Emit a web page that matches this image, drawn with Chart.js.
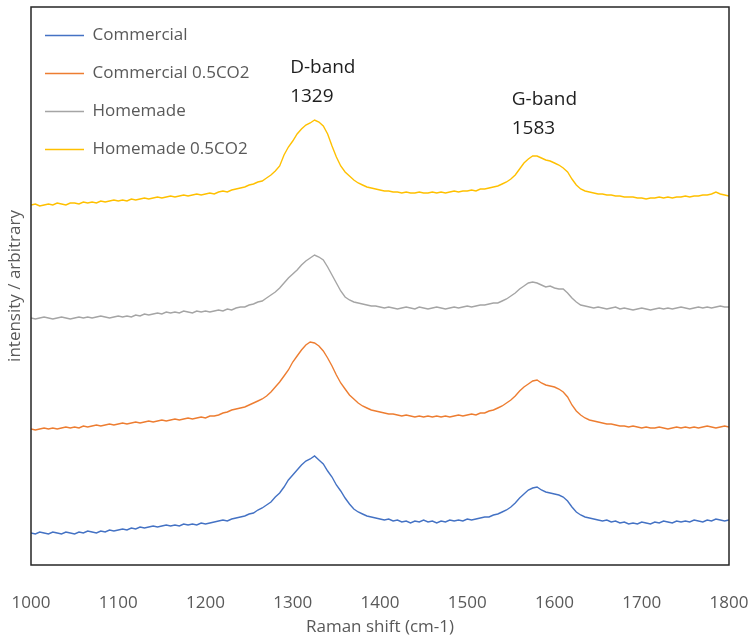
<!DOCTYPE html>
<html>
<head>
<meta charset="utf-8">
<script src="https://cdn.jsdelivr.net/npm/chart.js@4/dist/chart.umd.min.js"></script>
<style>
  html, body { margin: 0; padding: 0; background: #ffffff; }
  #wrap { width: 751px; height: 637px; }
</style>
</head>
<body>
<div id="wrap"><canvas id="raman" width="751" height="637"></canvas></div>
<script>
// Raman shift axis (cm-1)
const shifts = [
  1000,1005,1010,1015,1020,1025,1030,1035,1040,1045,1050,1055,1060,1065,1070,1075,1080,1085,1090,1095,
  1100,1105,1110,1115,1120,1125,1130,1135,1140,1145,1150,1155,1160,1165,1170,1175,1180,1185,1190,1195,
  1200,1205,1210,1215,1220,1225,1230,1235,1240,1245,1250,1255,1260,1265,1270,1275,1280,1285,1290,1295,
  1300,1305,1310,1315,1320,1325,1330,1335,1340,1345,1350,1355,1360,1365,1370,1375,1380,1385,1390,1395,
  1400,1405,1410,1415,1420,1425,1430,1435,1440,1445,1450,1455,1460,1465,1470,1475,1480,1485,1490,1495,
  1500,1505,1510,1515,1520,1525,1530,1535,1540,1545,1550,1555,1560,1565,1570,1575,1580,1585,1590,1595,
  1600,1605,1610,1615,1620,1625,1630,1635,1640,1645,1650,1655,1660,1665,1670,1675,1680,1685,1690,1695,
  1700,1705,1710,1715,1720,1725,1730,1735,1740,1745,1750,1755,1760,1765,1770,1775,1780,1785,1790,1795,
  1800
];

// Stacked spectra (arbitrary intensity, offset per sample)
const commercial = [
  32,31,33,32,31,33,32,31,33,32,31,33,32,34,33,32,34,33,35,34,
  35,36,35,37,36,38,37,38,39,38,39,40,39,40,39,41,40,41,40,42,
  41,42,43,44,45,44,46,47,48,49,51,52,55,57,60,63,68,72,78,85,
  90,95,100,104,106,109,105,101,94,88,80,74,67,61,56,53,51,49,48,47,
  46,45,46,44,45,43,44,42,44,43,45,43,44,42,44,43,45,44,45,44,
  46,45,46,47,48,48,50,51,53,55,58,62,67,71,75,77,78,75,73,72,
  71,70,68,64,58,53,50,48,47,46,45,44,45,43,44,42,43,41,42,41,
  43,42,41,43,42,44,43,42,44,43,44,43,45,44,43,45,44,46,45,44,
  45
];

const commercialCO2 = [
  136,135,136,137,136,137,136,137,138,137,138,137,139,138,139,140,139,140,141,140,
  141,142,141,142,143,142,143,144,143,144,145,144,145,146,145,146,147,146,147,148,
  147,149,149,150,152,153,155,156,157,158,160,162,164,166,169,173,178,183,189,195,
  203,209,215,220,223,222,219,214,207,199,190,182,176,170,166,162,159,157,155,154,
  153,152,151,151,150,149,150,149,148,149,148,149,148,149,148,149,148,149,150,149,
  150,151,150,152,152,154,155,157,159,162,165,169,174,178,181,184,185,182,180,179,
  178,176,173,168,160,154,150,147,145,144,143,142,141,141,140,139,139,138,139,138,
  137,138,137,137,138,137,136,137,138,137,138,137,138,137,138,139,138,137,138,139,
  138
];

const homemade = [
  247,246,247,248,247,246,247,248,247,246,247,248,247,248,247,248,249,248,247,248,
  249,248,249,248,250,249,251,250,251,252,251,253,252,253,252,254,253,252,254,253,
  254,253,254,255,254,256,255,257,258,258,260,261,263,264,267,270,273,277,282,287,
  291,295,300,304,307,310,308,305,298,290,282,274,268,265,263,262,261,260,259,259,
  258,257,258,257,256,257,258,257,256,258,257,256,257,258,257,256,257,258,257,258,
  259,258,259,260,260,261,262,262,264,266,269,272,276,279,282,283,282,280,278,279,
  277,276,276,272,267,263,260,259,258,257,258,257,256,257,258,256,257,256,255,256,
  257,256,255,256,257,256,257,256,257,258,257,256,257,258,257,258,257,258,259,258,
  258
];

const homemadeCO2 = [
  360,361,359,360,361,360,362,361,360,362,362,361,363,362,363,362,364,363,364,365,
  364,365,364,366,365,366,367,366,367,368,367,368,369,368,369,370,369,370,371,370,
  371,372,371,373,374,373,375,376,377,378,380,381,383,384,387,390,394,399,410,418,
  424,431,436,440,442,445,443,439,431,419,408,399,393,389,385,382,380,378,377,376,
  375,374,374,373,373,372,373,372,372,373,372,372,373,372,373,372,373,374,373,374,
  374,375,374,376,376,377,378,379,381,383,386,390,396,402,406,409,409,407,405,404,
  402,400,397,393,386,380,376,374,373,372,371,371,370,370,369,369,368,368,368,367,
  367,366,367,367,368,367,368,367,368,368,369,368,369,369,370,370,371,373,371,370,
  369
];

const seriesNames = ['Commercial', 'Commercial 0.5CO2', 'Homemade', 'Homemade 0.5CO2'];
const seriesColors = ['#4472C4', '#ED7D31', '#A5A5A5', '#FFC000'];
const seriesValues = [commercial, commercialCO2, homemade, homemadeCO2];

// Band annotations: label, peak position text, anchor (cm-1, intensity of text baseline)
const bandNames = ['D-band', 'G-band'];
const bandPeaks = ['1329', '1583'];
const bandLabelShift = [1297, 1551];
const bandLabelLevel = [492, 460];

const xTicks = [1000, 1100, 1200, 1300, 1400, 1500, 1600, 1700, 1800];

const textGrey = '#595959';
const uiFont = "'Open Sans', 'Liberation Sans', sans-serif";

const datasets = seriesValues.map((vals, i) => ({
  label: seriesNames[i],
  data: vals.map((v, k) => ({ x: shifts[k], y: v })),
  borderColor: seriesColors[i],
  backgroundColor: seriesColors[i],
  borderWidth: 1.4,
  pointRadius: 0,
  pointHoverRadius: 0,
  tension: 0,
  fill: false
}));

// Frame around the plot area
const plotFrame = {
  id: 'plotFrame',
  afterDatasetsDraw(chart) {
    const { ctx, chartArea: a } = chart;
    ctx.save();
    ctx.strokeStyle = '#262626';
    ctx.lineWidth = 1.5;
    ctx.strokeRect(a.left, a.top, a.right - a.left, a.bottom - a.top);
    ctx.restore();
  }
};

// Tuck the legend into the upper-left corner of the plot
const legendCorner = {
  id: 'legendCorner',
  afterLayout(chart) {
    if (chart.legend) {
      chart.legend.left = 24;
      chart.legend.top = 6;
    }
  }
};

// Band labels placed at data coordinates
const bandLabels = {
  id: 'bandLabels',
  afterDatasetsDraw(chart) {
    const { ctx, scales: { x, y } } = chart;
    ctx.save();
    ctx.fillStyle = '#1e1e1e';
    ctx.font = "19px " + uiFont;
    ctx.textAlign = 'left';
    ctx.textBaseline = 'alphabetic';
    bandNames.forEach((name, i) => {
      const px = x.getPixelForValue(bandLabelShift[i]);
      const py = y.getPixelForValue(bandLabelLevel[i]);
      ctx.fillText(name, px, py);
      ctx.fillText(bandPeaks[i], px, py + 29);
    });
    ctx.restore();
  }
};

new Chart(document.getElementById('raman'), {
  type: 'line',
  data: { datasets },
  plugins: [plotFrame, legendCorner, bandLabels],
  options: {
    responsive: false,
    animation: false,
    events: [],
    layout: { padding: { left: 0, right: 22, top: 7, bottom: 0 } },
    plugins: {
      tooltip: { enabled: false },
      legend: {
        position: 'chartArea',
        align: 'start',
        labels: {
          usePointStyle: true,
          pointStyle: 'line',
          pointStyleWidth: 39,
          padding: 21,
          color: textGrey,
          font: { family: uiFont, size: 17 }
        }
      }
    },
    scales: {
      x: {
        type: 'linear',
        min: 1000,
        max: 1800,
        afterBuildTicks(scale) {
          scale.ticks = xTicks.map(v => ({ value: v }));
        },
        afterFit(scale) { scale.height = 72; },
        grid: { display: false, drawTicks: true, tickLength: 26 },
        border: { display: false },
        ticks: {
          padding: 2,
          color: textGrey,
          maxRotation: 0,
          font: { family: uiFont, size: 17 },
          callback: v => String(v)
        },
        title: {
          display: true,
          text: 'Raman shift (cm-1)',
          color: textGrey,
          padding: { top: 0, bottom: 0 },
          font: { family: uiFont, size: 17 }
        }
      },
      y: {
        type: 'linear',
        min: 0,
        max: 558,
        afterFit(scale) { scale.width = 31; },
        grid: { display: false, drawTicks: false },
        border: { display: false },
        ticks: { display: false },
        title: {
          display: true,
          text: 'intensity / arbitrary',
          color: textGrey,
          padding: { top: 5, bottom: 0 },
          font: { family: uiFont, size: 17 }
        }
      }
    }
  }
});
</script>
</body>
</html>
